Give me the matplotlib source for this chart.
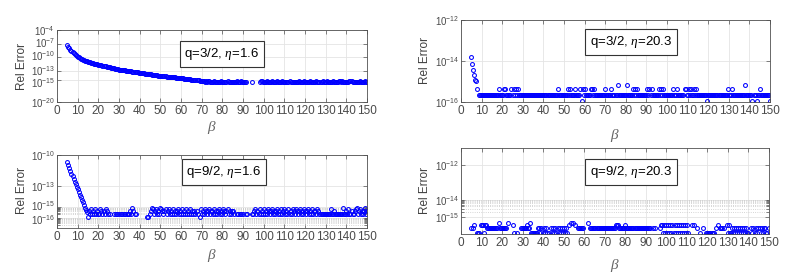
import numpy as np
import matplotlib
matplotlib.use('Agg')
import matplotlib.pyplot as plt
import matplotlib.transforms as mtransforms
from matplotlib.ticker import FixedLocator, NullLocator, NullFormatter

plt.rcParams['font.family'] = ['Liberation Sans', 'DejaVu Sans']
plt.rcParams['mathtext.fontset'] = 'custom'
plt.rcParams['mathtext.rm'] = 'Liberation Sans'
plt.rcParams['mathtext.it'] = 'Liberation Serif:italic'

W, H = 790, 276

# beta grid of the computation (step 0.5)
beta = np.arange(5, 150.5, 0.5)

# --- q=3/2, eta=1.6 : log10 of the error for beta 5 .. 74.5
p1_head_log = [
    -7.40, -7.75, -8.10, -8.40, -8.70, -8.95, -9.20, -9.40, -9.60, -9.78,
    -9.95, -10.10, -10.24, -10.37, -10.50, -10.61, -10.71, -10.81, -10.90, -10.98,
    -11.06, -11.13, -11.20, -11.27, -11.33, -11.39, -11.45, -11.51, -11.57, -11.64,
    -11.70, -11.76, -11.82, -11.88, -11.94, -12.00, -12.05, -12.10, -12.16, -12.22,
    -12.28, -12.33, -12.38, -12.43, -12.48, -12.53, -12.58, -12.63, -12.68, -12.73,
    -12.78, -12.82, -12.85, -12.89, -12.92, -12.96, -12.99, -13.03, -13.06, -13.10,
    -13.14, -13.17, -13.21, -13.24, -13.28, -13.31, -13.35, -13.38, -13.42, -13.46,
    -13.50, -13.53, -13.57, -13.60, -13.64, -13.67, -13.71, -13.74, -13.78, -13.81,
    -13.85, -13.88, -13.92, -13.95, -13.99, -14.02, -14.06, -14.09, -14.13, -14.16,
    -14.20, -14.22, -14.25, -14.27, -14.30, -14.32, -14.35, -14.37, -14.40, -14.42,
    -14.45, -14.47, -14.50, -14.52, -14.55, -14.57, -14.60, -14.62, -14.65, -14.67,
    -14.70, -14.73, -14.76, -14.79, -14.82, -14.85, -14.88, -14.91, -14.94, -14.97,
    -15.00, -15.03, -15.06, -15.09, -15.12, -15.15, -15.18, -15.21, -15.24, -15.27,
    -15.30, -15.35, -15.28, -15.45, -15.38, -15.50, -15.42, -15.30, -15.55, -15.48,
]
# tail, beta 75 .. 150, digit k = k * 2^-53, 0 = exact (not drawn)
p1_tail = ("32423322342332243223"
           "23324223422332000003"
           "00000034423324322343"
           "22342332423223342332"
           "32234232243322342323"
           "24332234232433223423"
           "33244342233234442332"
           "32342232433")

# --- q=3/2, eta=20.3 : beta 5 .. 9.5, then codes from 10
p2_head_log = [-13.82, -14.13, -14.42, -14.70, -14.92, -14.97, -15.35, -15.65, -15.65, -15.65]
p2_tail = ("22222222222222222422"
           "22442222242424242222"
           "22222222222222222222"
           "22222222222222422222"
           "22224242222422224142"
           "42222244242222222222"
           "42222242222262222222"
           "26222224242422222222"
           "24242422222242424222"
           "22222242224222222442"
           "24242242422222222221"
           "22222222222222222224"
           "22242222222222226222"
           "22212221224222222222"
           "1")

# --- q=9/2, eta=1.6 : beta 5 .. 14.5, then codes from 15
p3_head_log = [-10.70, -11.00, -11.28, -11.55, -11.80, -12.05, -12.30, -12.55, -12.80, -13.05,
               -13.30, -13.55, -13.80, -14.05, -14.30, -14.55, -14.80, -15.05, -15.25, -15.45]
p3_tail = ("14262426242264242642"
           "02000202202022022022"
           "24284220000000000110"
           "24862462428642462462"
           "42624246242624262426"
           "24242420162426424624"
           "42624246242642462424"
           "42002202202002200002"
           "24624262426242642462"
           "42462426246242624264"
           "26424624264246242624"
           "42642222222222262242"
           "22222228224262242246"
           "82462424824")

# --- q=9/2, eta=20.3 : codes from beta 5
p4_head_log = []
p4_tail = ("20230011133313322222"
           "22222204222222204000"
           "03100100222222322411"
           "11111221201212101021"
           "21212121212121030404"
           "03002222220000402222"
           "22222222222222222222"
           "23332222223222222222"
           "22222222222222200202"
           "00002331313131313131"
           "31313131313100030300"
           "20010020011111111020"
           "30222020031311212121"
           "21212121211021201212"
           "02121221102")

labels = ['q=3/2, $\\eta$=1.6', 'q=3/2, $\\eta$=20.3', 'q=9/2, $\\eta$=1.6', 'q=9/2, $\\eta$=20.3']


def rel_error(head_log, tail):
    vals = [10.0 ** v for v in head_log]
    vals += [int(c) * 2.0 ** -53 if c != '0' else np.nan for c in tail]
    return np.array(vals)


def tick_text(v):
    return r'$\mathregular{10^{%d}}$' % int(round(np.log10(v)))


panels = [
    # rect in px (left, top, right, bottom); nudge = vertical px shift of crowded tick labels
    dict(rect=(57, 30, 367, 102), ylim=(1e-20, 1e-4), yticks=[1e-20, 1e-15, 1e-13, 1e-10, 1e-7, 1e-4],
         nudge=[0, -3, 0.8, 1.5, 1, 0],
         minor=[], box=(222, 54), xl=(212, 127), yl=(22, 66),
         y=rel_error(p1_head_log, p1_tail)),
    dict(rect=(461, 20, 770, 102), ylim=(1e-16, 1e-12), yticks=[1e-16, 1e-14, 1e-12],
         nudge=[0, 0, 0],
         minor=[], box=(631, 42), xl=(615, 136), yl=(425, 60),
         y=rel_error(p2_head_log, p2_tail)),
    dict(rect=(57, 155, 367, 228), ylim=(1e-17, 1e-10), yticks=[1e-16, 1e-15, 1e-13, 1e-10],
         nudge=[-2, 2, 0, 0],
         minor=[1e-17, 1e-16], box=(224, 172), xl=(212, 256), yl=(22, 190),
         y=rel_error(p3_head_log, p3_tail)),
    dict(rect=(461, 148, 769, 234), ylim=(1e-16, 1e-11), yticks=[1e-15, 1e-14, 1e-12],
         nudge=[0, 0, 0],
         minor=[1e-15], box=(631, 172), xl=(615, 265), yl=(425, 190),
         y=rel_error(p4_head_log, p4_tail)),
]

fig = plt.figure(figsize=(W / 100, H / 100), dpi=100)
grey = '#505050'

for p, lab in zip(panels, labels):
    l, t, r, b = p['rect']
    ax = fig.add_axes([l / W, 1 - b / H, (r - l) / W, (b - t) / H])
    ax.set_yscale('log')
    ax.plot(beta, p['y'], 'o', ms=2.8, mfc='none', mec='#0000ff', mew=0.75, ls='none')
    ax.set_xlim(0, 150)
    ax.set_ylim(*p['ylim'])
    ax.set_xticks(np.arange(0, 151, 10))
    ax.set_yticks(p['yticks'])
    ax.set_yticklabels([tick_text(v) for v in p['yticks']])
    minors = [k * d for d in p['minor'] for k in range(2, 10)]
    if minors:
        ax.yaxis.set_minor_locator(FixedLocator(minors))
        ax.yaxis.set_minor_formatter(NullFormatter())
        ax.grid(True, which='minor', axis='y', color='#c8c8c8', ls=':', lw=0.6)
    else:
        ax.yaxis.set_minor_locator(NullLocator())
    ax.grid(True, which='major', color='#e4e4e4', lw=0.6)
    ax.set_axisbelow(True)
    ax.tick_params(which='both', direction='in', top=True, right=True, color=grey,
                   labelcolor='#4a4a4a', width=0.5, pad=2)
    ax.tick_params(axis='x', labelsize=8.5)
    ax.tick_params(axis='y', labelsize=7, pad=1.5)
    ax.tick_params(which='major', length=3)
    ax.tick_params(which='minor', length=2)
    for lbl, dy in zip(ax.get_yticklabels(), p['nudge']):
        if dy:
            lbl.set_transform(lbl.get_transform() +
                              mtransforms.ScaledTranslation(0, dy / 100, fig.dpi_scale_trans))
    for s in ax.spines.values():
        s.set_color(grey)
        s.set_linewidth(0.6)

    fig.text(p['box'][0] / W, 1 - p['box'][1] / H, lab, ha='center', va='center', fontsize=9.5,
             bbox=dict(boxstyle='square,pad=0.35', fc='white', ec='#333333', lw=0.8))
    fig.text(p['xl'][0] / W, 1 - p['xl'][1] / H, r'$\beta$', ha='center', va='center',
             fontsize=11, color='#666666')
    fig.text(p['yl'][0] / W, 1 - p['yl'][1] / H, 'Rel Error', ha='center', va='center',
             rotation=90, fontsize=8.5, color='#404040')

fig.savefig('out.png', dpi=100)
